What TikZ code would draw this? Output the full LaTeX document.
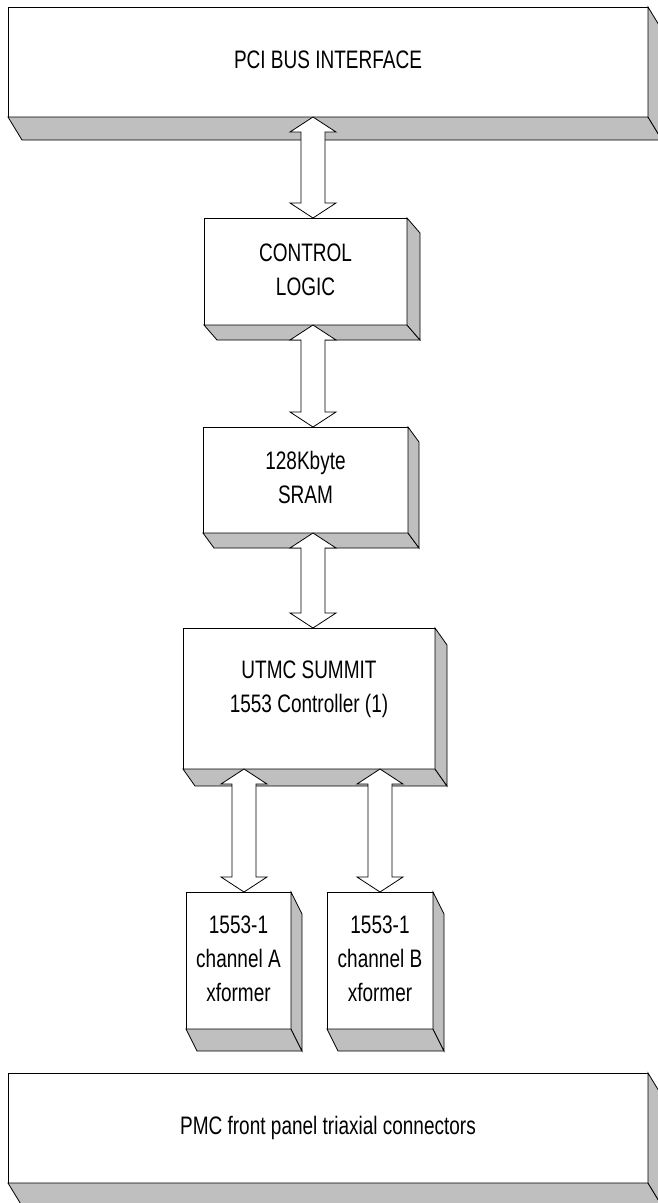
\documentclass[tikz,border=0pt]{standalone}
\usepackage{graphicx}
\usepackage{fontspec}
\setmainfont{Liberation Sans}
\usetikzlibrary{calc}
\newcommand\lbl[1]{\scalebox{1}[1.33]{\begin{tabular}{@{}c@{}}#1\end{tabular}}}
\newcommand\threed[3]{%
  \filldraw[face] (#1.south west) -- (#1.south east) -- ++(#2,#3) -- ($(#1.south west)+(#2,#3)$) -- cycle;
  \filldraw[face] (#1.north east) -- ++(#2,#3) -- ($(#1.south east)+(#2,#3)$) -- (#1.south east) -- cycle;}
\newcommand\dblarrow[2]{%
  \filldraw[dblarr] (#1) -- ($(#1)+(23,15)$) -- ($(#1)+(12,15)$) -- ($(#2)+(12,-15)$) -- ($(#2)+(23,-15)$) -- (#2)
  -- ($(#2)+(-23,-15)$) -- ($(#2)+(-12,-15)$) -- ($(#1)+(-12,15)$) -- ($(#1)+(-23,15)$) -- cycle;}
\begin{document}
\begin{tikzpicture}[x=1pt,y=-1pt,
  box/.style={draw=black, fill=white, line width=0.8pt, rectangle, inner sep=0pt, outer sep=0pt,
    anchor=north west, font=\fontsize{19}{25.5}\selectfont},
  txt/.style={inner sep=0pt, font=\fontsize{19}{25.5}\selectfont},
  face/.style={fill=black!25, draw=black, line width=0.8pt, line join=miter},
  dblarr/.style={fill=white, draw=black, line width=0.8pt, line join=miter}]
\useasboundingbox (0,0) rectangle (657,1203);
\fill[white] (0,0) rectangle (657,1203);

% boxes
\node[box, minimum width=640pt, minimum height=110pt] (pci) at (8,7) {\lbl{PCI BUS INTERFACE}};
\threed{pci}{14}{23}

\node[box, minimum width=203pt, minimum height=107pt] (ctl) at (204,218) {\lbl{CONTROL\\LOGIC}};
\threed{ctl}{13}{15}

\node[box, minimum width=205pt, minimum height=106pt] (sram) at (203,427) {\lbl{128Kbyte\\SRAM}};
\threed{sram}{11}{15}

\node[box, minimum width=252pt, minimum height=141pt] (utmc) at (183,628) {};
\threed{utmc}{12}{17}
\node[txt] (utmctxt) at ($(utmc.center)+(0,-9.5)$) {\lbl{UTMC SUMMIT\\1553 Controller (1)}};

\node[box, minimum width=105pt, minimum height=137pt] (cha) at (186,892) {\lbl{1553-1\\channel A\\xformer}};
\threed{cha}{11}{22}

\node[box, minimum width=106pt, minimum height=137pt] (chb) at (327,892) {\lbl{1553-1\\channel B\\xformer}};
\threed{chb}{11}{22}

\node[box, minimum width=640pt, minimum height=110pt] (pmc) at (8,1073) {\lbl{PMC front panel triaxial connectors}};
\threed{pmc}{14}{23}

% arrow end points
\coordinate (a1t) at (313,0 |- pci.south);
\coordinate (a1b) at (313,0 |- ctl.north);
\coordinate (a2t) at (313,0 |- ctl.south);
\coordinate (a2b) at (313,0 |- sram.north);
\coordinate (a3t) at (313,0 |- sram.south);
\coordinate (a3b) at (313,0 |- utmc.north);
\coordinate (a4t) at (244,0 |- utmc.south);
\coordinate (a4b) at (244,0 |- cha.north);
\coordinate (a5t) at (380,0 |- utmc.south);
\coordinate (a5b) at (380,0 |- chb.north);

\dblarrow{a1t}{a1b}
\dblarrow{a2t}{a2b}
\dblarrow{a3t}{a3b}
\dblarrow{a4t}{a4b}
\dblarrow{a5t}{a5b}
\end{tikzpicture}
\end{document}
